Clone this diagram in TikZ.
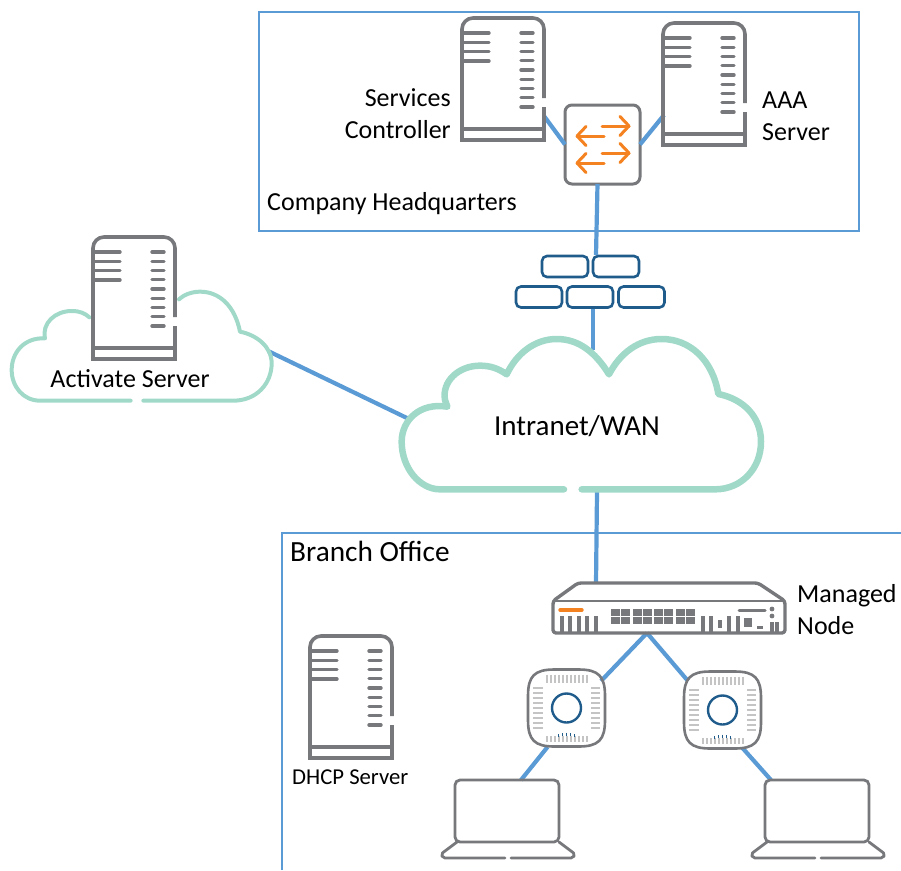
\documentclass[tikz,border=0pt]{standalone}
\usepackage{fontspec}
\setmainfont{Carlito}
\usetikzlibrary{calc}
\definecolor{linkblue}{HTML}{5B9BD5}
\definecolor{cloudgreen}{HTML}{A0D9C8}
\definecolor{icongray}{HTML}{77787B}
\definecolor{tickgray}{HTML}{C4C4C4}
\definecolor{accent}{HTML}{F58220}
\definecolor{deepblue}{HTML}{1F5C8B}
\tikzset{
  x=1pt,y=-1pt,
  link/.style={draw=linkblue,line width=4.2pt},
  zone/.style={draw=linkblue,line width=1.8pt},
  cloudline/.style={draw=cloudgreen,line width=6.5pt,line cap=round},
  cloudthin/.style={draw=cloudgreen,line width=4pt,line cap=round},
  iconbox/.style={inner sep=0pt,outer sep=0pt,minimum width=#1},
  brick/.style={draw=deepblue,line width=2.6pt,rounded corners=5pt,minimum width=46pt,minimum height=21pt,inner sep=0pt,outer sep=1pt},
  label/.style={inner sep=0pt,font=\fontsize{26}{32}\selectfont},
  swarrow/.style={draw=accent,line width=3pt,line cap=round,line join=round},
  serverpic/.pic={
    \draw[icongray,line width=3.6pt] (82,80) -- (82,11) .. controls (82,5) and (77,0) .. (71,0) -- (11,0) .. controls (5,0) and (0,5) .. (0,11) -- (0,122) -- (82,122) -- (82,89);
    \draw[icongray,line width=3.6pt] (0,111) -- (83,111);
    \foreach \yy in {15,24.3,33.6,43}{\draw[icongray,line width=3.4pt,line cap=round] (0,\yy) -- (27,\yy);}
    \foreach \ii in {0,...,8}{\draw[icongray,line width=3.4pt,line cap=round] (59,15+9.25*\ii) -- (71,15+9.25*\ii);}
  },
  appic/.pic={
    \draw[icongray,line width=2.6pt] (-38.5,-12) .. controls (-38.5,-32) and (-32,-38.5) .. (-12,-38.5)
      -- (12,-38.5) .. controls (32,-38.5) and (38.5,-32) .. (38.5,-12)
      -- (38.5,12) .. controls (38.5,32) and (32,38.5) .. (12,38.5)
      -- (-12,38.5) .. controls (-32,38.5) and (-38.5,32) .. (-38.5,12) -- cycle;
    \foreach \tt in {-20,-16,...,20}{
      \draw[tickgray,line width=2pt] (\tt,-33.5) -- (\tt,-25);
      \draw[tickgray,line width=2pt] (\tt,33.5) -- (\tt,28);
    }
    \foreach \tt in {-20,-15,...,20}{
      \draw[tickgray,line width=2pt] (-33.5,\tt) -- (-24,\tt);
      \draw[tickgray,line width=2pt] (33.5,\tt) -- (24,\tt);
    }
    \draw[deepblue,line width=2.4pt] (0,0) circle[radius=14.5];
    \foreach \tt/\hh in {-8/26,-4/25,0/24.5,4/25,8/26}{\draw[deepblue,line width=1.6pt] (\tt,\hh) -- (\tt,\hh+3);}
  },
  laptoppic/.pic={
    \draw[icongray,line width=2.8pt,rounded corners=5pt] (0,0) rectangle (104,62);
    \draw[icongray,line width=2.8pt,line cap=round,line join=round,rounded corners=2pt] (2,62) -- (-14,74) -- (-12,78) -- (50,78);
    \draw[icongray,line width=2.8pt,line cap=round,line join=round,rounded corners=2pt] (56,78) -- (118,78) -- (120,74) -- (104,62);
  },
}
\begin{document}
\begin{tikzpicture}
\useasboundingbox (0,0) rectangle (901,870);
% zones
\node[zone,inner sep=0pt,minimum width=600pt,minimum height=219pt] (hq) at (559,121.5) {};
\coordinate (branchLow) at (282,870);
\coordinate (branchCorner) at (282,533);
\coordinate (branchEnd) at (901,533);
\draw[zone] (branchLow) -- (branchCorner) -- (branchEnd);

% anchors of icons
\node[iconbox=82pt,minimum height=122pt] (sc) at (503,79) {};
\node[iconbox=82pt,minimum height=122pt] (aaa) at (704,84) {};
\node[iconbox=82pt,minimum height=122pt] (act) at (134,298) {};
\node[iconbox=82pt,minimum height=122pt] (dhcp) at (351,697) {};
\node[draw=icongray,line width=3pt,rounded corners=7pt,minimum width=75pt,minimum height=79pt,inner sep=0pt,outer sep=0pt] (sw) at (602.5,144.5) {};
\node[brick] (b1) at (565,266.5) {};
\node[brick] (b2) at (616,266.5) {};
\node[brick] (b3) at (539,297) {};
\node[brick] (b4) at (590,297) {};
\node[brick] (b5) at (641.5,297) {};
\node[iconbox=232pt,minimum height=50pt] (gw) at (669,608) {};
\node[iconbox=77pt,minimum height=78pt] (ap1) at (566.5,708) {};
\node[iconbox=77pt,minimum height=78pt] (ap2) at (722.5,710) {};
\node[iconbox=104pt,minimum height=62pt] (lt1) at (507,811) {};
\node[iconbox=104pt,minimum height=62pt] (lt2) at (817,811) {};
\coordinate (wanTop) at (593,350);
\coordinate (wanLeft) at (409,419);
\coordinate (wanBottom) at (597,492);
\coordinate (actRight) at (268,351);

% connectors
\draw[link] ($(sc.east)+(0,37)$) -- (sw.west);
\draw[link] ($(aaa.west)+(1,31)$) -- (sw.east);
\draw[link] ($(sw.south)+(-5,0)$) -- ($(b2.north west)+(4,0)$);
\draw[link] ($(b4.south)+(3,0)$) -- (wanTop);
\draw[link] (actRight) -- (wanLeft);
\draw[link] (wanBottom) -- ($(gw.north west)+(43,0)$);
\draw[link] ($(gw.south west)+(94,0)$) -- ($(ap1.north east)+(-4,12)$);
\draw[link] ($(gw.south west)+(94,0)$) -- ($(ap2.north west)+(4,10)$);
\draw[link] ($(ap1.south)+(-19,0)$) -- ($(lt1.north)+(14,0)$);
\draw[link] ($(ap2.south)+(20,-1)$) -- ($(lt2.north)+(-46,0)$);

% large cloud, Intranet/WAN
\begin{scope}[shift={(390,325)},scale=0.33333]
\draw[cloudline,line join=round] (575,493) -- (975,493) .. controls (1055,493) and (1113,430) .. (1113,350)
 .. controls (1113,275) and (1060,222) .. (985,207)
 .. controls (968,105) and (900,42) .. (815,42)
 .. controls (745,42) and (690,85) .. (657,148)
 .. controls (615,80) and (565,42) .. (500,42)
 .. controls (435,42) and (380,85) .. (350,148)
 .. controls (325,130) and (300,122) .. (270,122)
 .. controls (205,122) and (155,170) .. (165,225)
 -- (172,245)
 .. controls (90,232) and (35,285) .. (35,350)
 .. controls (35,430) and (90,493) .. (150,493)
 -- (522,493);
\end{scope}

% small cloud, Activate Server
\begin{scope}[shift={(0,230)},scale=0.33333]
\draw[cloudthin,line join=round] (430,512) -- (700,512) .. controls (770,512) and (815,460) .. (815,400)
 .. controls (815,350) and (770,315) .. (720,305)
 .. controls (705,230) and (660,185) .. (600,185)
 .. controls (575,185) and (550,195) .. (537,208);
\draw[cloudthin,line join=round] (268,262) .. controls (255,250) and (240,243) .. (215,243)
 .. controls (165,243) and (125,280) .. (135,325)
 .. controls (70,322) and (35,370) .. (35,420)
 .. controls (35,470) and (70,512) .. (120,512)
 -- (392,512);
\end{scope}

% servers
\pic at (sc.north west) {serverpic};
\pic at (aaa.north west) {serverpic};
\pic at (act.north west) {serverpic};
\pic at (dhcp.north west) {serverpic};

% switch arrows
\foreach \yy in {126,153}{
  \draw[swarrow] (602,\yy) -- (629,\yy);
  \draw[swarrow] (620,\yy-9.5) -- (629,\yy) -- (620,\yy+9.5);
}
\foreach \yy in {136,163}{
  \draw[swarrow] (604,\yy) -- (577,\yy);
  \draw[swarrow] (586,\yy-9.5) -- (577,\yy) -- (586,\yy+9.5);
}

% managed node
\begin{scope}[shift={(gw.north west)}]
\draw[icongray,line width=3.4pt,line join=round,rounded corners=3pt] (0,18) -- (25,0) -- (205,0) -- (232,18) -- (232,50) -- (0,50) -- cycle;
\draw[icongray,line width=2.6pt] (0,18) -- (232,18);
\draw[accent,line width=3.4pt,line cap=round] (7,27) -- (29,27);
\foreach \xx in {9,17,26,34,43}{\draw[icongray,line width=3.2pt] (\xx,33) -- (\xx,50);}
\foreach \xx in {58,80,101,123}{
  \foreach \yy in {26,34}{
    \fill[icongray] (\xx,\yy) rectangle +(8.5,6.5);
    \fill[icongray] (\xx+10,\yy) rectangle +(8.5,6.5);
  }
}
\foreach \xx in {150,158,176,185}{\draw[icongray,line width=3.2pt] (\xx,33) -- (\xx,50);}
\draw[icongray,line width=3.2pt] (167,37) -- (167,45);
\draw[icongray,line width=3pt,line cap=round] (186,27) -- (212,27);
\fill[icongray] (219,26) circle[radius=2.4];
\fill[icongray] (219,33) circle[radius=2.4];
\fill[icongray] (191,35) rectangle (199,44);
\draw[icongray,line width=3pt] (204,44) -- (210,44);
\foreach \xx in {219,224}{\draw[icongray,line width=3.2pt] (\xx,39) -- (\xx,50);}
\end{scope}

% access points
\pic at (ap1) {appic};
\pic at (ap2) {appic};

% laptops
\pic at (lt1.north west) {laptoppic};
\pic at (lt2.north west) {laptoppic};

% labels
\node[label,align=right,anchor=north east] (lsc) at (451,88) {Services\\Controller};
\node[label,align=left,anchor=north west] (laaa) at (762,92) {AAA\\Server};
\node[label,anchor=west] (lhq) at (267,204) {Company Headquarters};
\node[label,anchor=center] (lact) at (130,379) {Activate Server};
\node[inner sep=0pt,font=\fontsize{29}{32}\selectfont] (lwan) at (577,426) {Intranet/WAN};
\node[inner sep=0pt,anchor=west,font=\fontsize{29.3}{32}\selectfont] (lbr) at (290,551) {Branch Office};
\node[label,align=left,anchor=north west] (lgw) at (797,584) {Managed\\Node};
\node[inner sep=0pt,anchor=west,font=\fontsize{22.7}{26}\selectfont] (ldh) at (292,777) {DHCP Server};
\end{tikzpicture}
\end{document}
